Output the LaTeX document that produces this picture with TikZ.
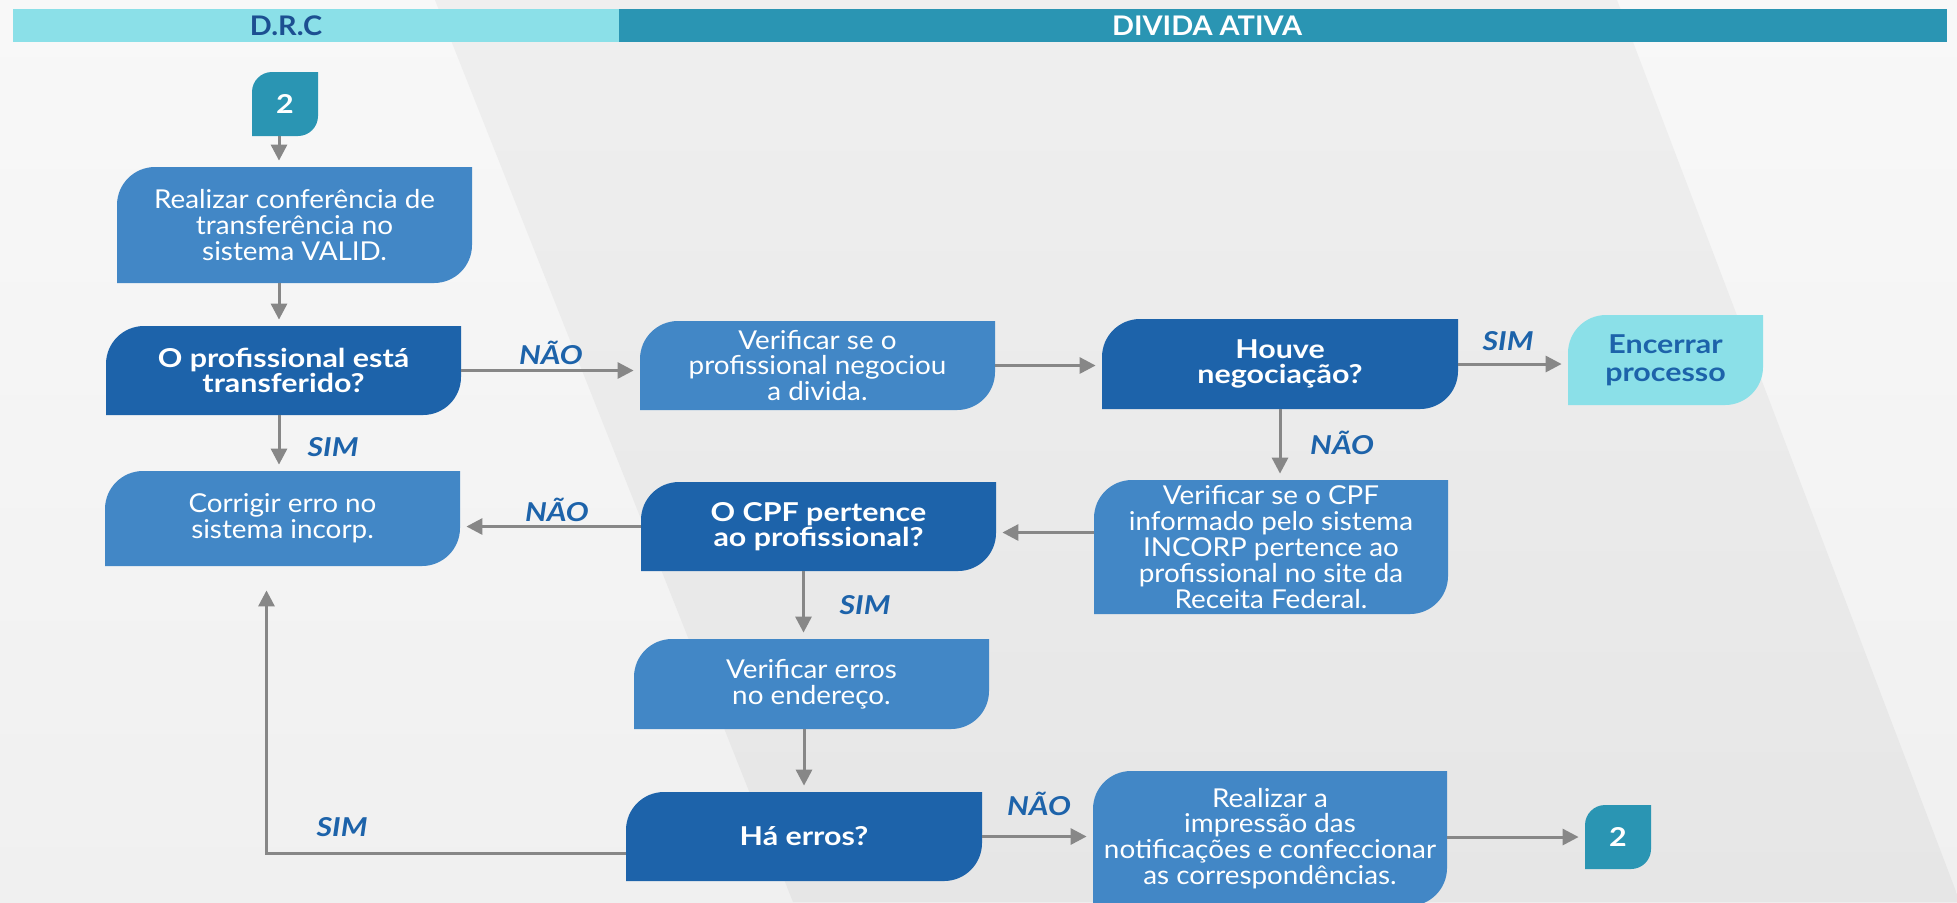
\documentclass[tikz,border=0pt]{standalone}
\usepackage{fontspec}
\setmainfont{Lato}[FakeStretch=1.07]
\newfontfamily\grosso{Lato}[FakeStretch=1.17]
\usetikzlibrary{arrows.meta}
\definecolor{ciano}{HTML}{8BE0E8}
\definecolor{petroleo}{HTML}{2A95B3}
\definecolor{azulesc}{HTML}{1D63AA}
\definecolor{azulmed}{HTML}{4287C6}
\definecolor{cinza}{HTML}{878787}
\definecolor{marinho}{HTML}{1C4F91}
\definecolor{fundoA}{HTML}{F8F8F8}
\definecolor{fundoB}{HTML}{F0F0F0}
\definecolor{faixaA}{HTML}{EFEFEF}
\definecolor{faixaB}{HTML}{E6E6E6}
% caixa: nome, x, y (canto sup. esq.), largura, altura, cor, estilo, texto
\newcommand{\caixa}[8]{
\fill[#6] (#2,-#3-#5) -- ++(0,#5-38) arc(180:90:38) -- (#2+#4,-#3) -- ++(0,-#5+38) arc(0:-90:38) -- cycle;
\node[#7,minimum width=#4*0.5pt,minimum height=#5*0.5pt] (#1) at (#2+#4/2,-#3-#5/2) {#8};}
% conector de pagina
\newcommand{\conector}[4]{
\fill[petroleo] (#2,-#3-64) -- ++(0,44) arc(180:90:20) -- (#2+66,-#3) -- ++(0,-44) arc(0:-90:20) -- cycle;
\node[negrito,minimum width=33pt,minimum height=32pt] (#1) at (#2+33,-#3-32) {#4};}
\tikzset{
texto/.style={text=white,align=center,inner sep=0pt,font=\fontsize{13}{12.9}\selectfont},
negrito/.style={texto,font=\grosso\fontsize{13}{12.6}\selectfont\bfseries},
rotulo/.style={text=azulesc,font=\grosso\fontsize{13}{14}\selectfont\bfseries\itshape},
seta/.style={draw=cinza,line width=1.5pt,-{Triangle[length=8pt,width=8pt]},shorten >=3pt},
}

\begin{document}
\begin{tikzpicture}[x=0.5pt,y=0.5pt]
\useasboundingbox (0,0) rectangle (1957,-902);
\clip (0,0) rectangle (1957,-902);
% fundo
\shade[top color=fundoA,bottom color=fundoB] (0,0) rectangle (1957,-902);
\shade[top color=faixaA,bottom color=faixaB] (435,0) -- (1617,0) -- (1960,-902) -- (793,-902) -- cycle;

% cabecalho
\fill[ciano] (13,-9) rectangle (619,-42);
\fill[petroleo] (619,-9) rectangle (1947,-42);
\node[text=marinho,font=\fontsize{13.5}{16}\selectfont\bfseries] (drc) at (286,-26) {D.R.C};
\node[text=white,font=\fontsize{13.5}{16}\selectfont\bfseries] (divida) at (1207,-26) {DIVIDA ATIVA};

\conector{ini}{252}{72}{2}
\caixa{conf}{117}{167}{355}{116}{azulmed}{texto}{Realizar conferência de\\transferência no\\sistema VALID.}
\caixa{transf}{106}{326}{355}{89}{azulesc}{negrito}{O profissional está\\transferido?}
\caixa{corrigir}{105}{471}{355}{95}{azulmed}{texto}{Corrigir erro no\\sistema incorp.}
\caixa{verif}{640}{321}{355}{89}{azulmed}{texto}{Verificar se o\\profissional negociou\\a divida.}
\caixa{houve}{1102}{319}{356}{90}{azulesc}{negrito}{Houve\\negociação?}
\caixa{encerrar}{1568}{315}{195}{90}{ciano}{negrito,text=azulesc,font=\grosso\fontsize{13}{14}\selectfont\bfseries}{Encerrar\\processo}
\caixa{cpfver}{1094}{480}{354}{134}{azulmed}{texto}{Verificar se o CPF\\informado pelo sistema\\INCORP pertence ao\\profissional no site da\\Receita Federal.}
\caixa{cpf}{641}{482}{355}{89}{azulesc}{negrito}{O CPF pertence\\ao profissional?}
\caixa{erros}{634}{639}{355}{90}{azulmed}{texto}{Verificar erros\\no endereço.}
\caixa{haerros}{626}{792}{356}{89}{azulesc}{negrito}{\raisebox{-3pt}{Há erros?}}
\caixa{impr}{1093}{771}{354}{135}{azulmed}{texto}{Realizar a\\impressão das\\notificações e confeccionar\\as correspondências.}
\conector{fim}{1585}{805}{2}

% setas
\coordinate (eixo) at (279,-100);
\draw[seta] (eixo |- ini.south) -- (eixo |- conf.north);
\draw[seta] (eixo |- conf.south) -- (eixo |- transf.north);
\draw[seta] (eixo |- transf.south) -- (eixo |- corrigir.north);
\draw[seta] (transf.east) -- (transf.east -| verif.west);
\draw[seta] (verif.east) -- (verif.east -| houve.west);
\draw[seta] (houve.east) -- (houve.east -| encerrar.west);
\draw[seta] (houve.south) -- (houve.south |- cpfver.north);
\draw[seta] ([yshift=-3pt]cpfver.west |- cpf.east) -- ([yshift=-3pt]cpf.east);
\draw[seta] (cpf.west) -- (cpf.west -| corrigir.east);
\draw[seta] ([xshift=-7.5pt]cpf.south) -- ([xshift=-7.5pt]cpf.south |- erros.north);
\draw[seta] (haerros.north |- erros.south) -- (haerros.north);
\draw[seta] (haerros.east) -- (haerros.east -| impr.west);
\draw[seta] (impr.east |- fim.west) -- (fim.west);
\draw[seta,shorten >=12pt] ([yshift=-8.5pt]haerros.west) -| ([xshift=-8pt]corrigir.south);

% rotulos
\foreach \n/\x/\y/\t in {r1/551/353/NÃO,r2/333/447/SIM,r3/1508/341/SIM,r4/1342/443/NÃO,
  r5/557/510/NÃO,r6/865/605/SIM,r7/1039/804/NÃO,r8/342/827/SIM}{
  \node[rotulo] (\n) at (\x,-\y) {\t};
}

\end{tikzpicture}
\end{document}
